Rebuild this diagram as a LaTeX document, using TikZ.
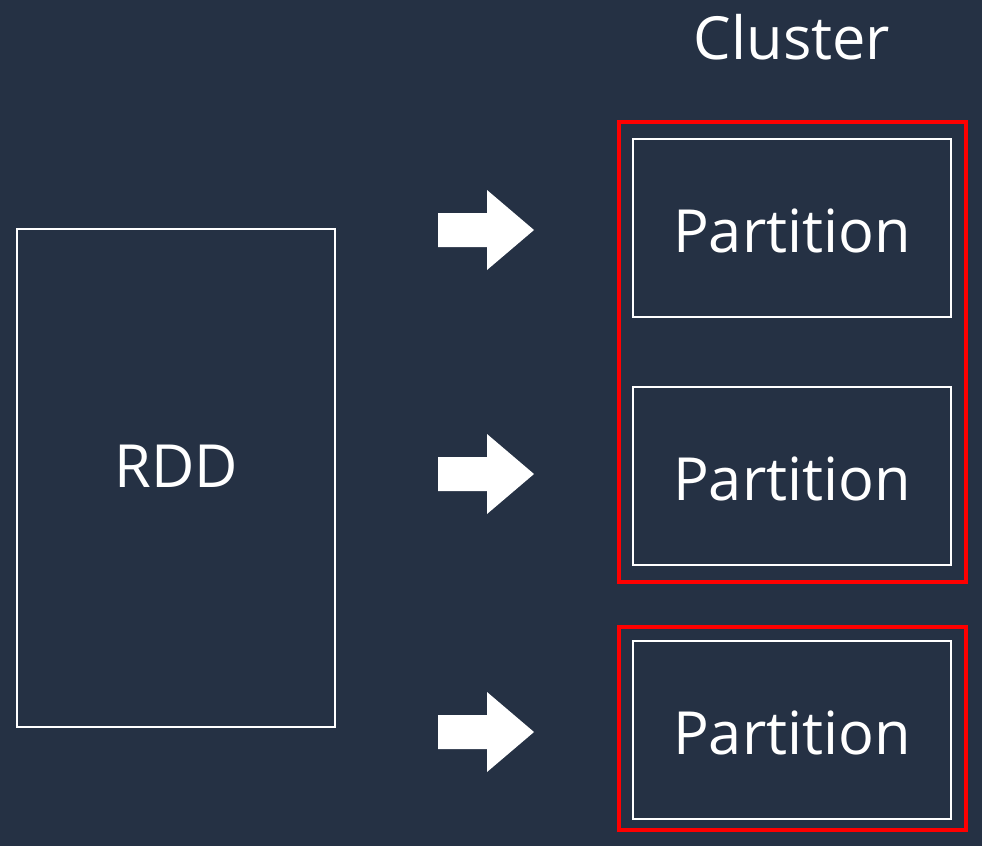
\documentclass[tikz,border=0pt]{standalone}
\usepackage{fontspec}
\setmainfont{Open Sans}
\definecolor{bg}{HTML}{253144}
\definecolor{redc}{HTML}{FF0000}
\begin{document}
\begin{tikzpicture}[x=1pt,y=-1pt,
  box/.style={draw=white,line width=1.6pt,fill=none},
  lbl/.style={text=white,font=\fontsize{59.5}{68}\selectfont,inner sep=0pt},
  grp/.style={draw=redc,line width=3.5pt},
  bigarrow/.style={fill=white,draw=none}]
\fill[bg] (0,0) rectangle (982,846);
\useasboundingbox (0,0) rectangle (982,846);
% RDD
\draw[box] (17,229) rectangle (335,727);
\node[lbl] (rdd) at (176,466) {RDD};
% cluster label
\node[lbl] (cluster) at (792,37) {Cluster};
% red groups
\draw[grp] (619,122) rectangle (966,582);
\draw[grp] (619,627) rectangle (966,830);
% partitions
\foreach \n/\y in {p1/228, p2/476, p3/730}{
  \draw[box] (633,\y-89) rectangle (951,\y+89);
  \node[lbl] (\n) at (792,\y+3) {Partition};
}
% arrows
\foreach \a/\c in {a1/230, a2/474, a3/732}{
  \fill[bigarrow] (438,\c-17) -- (487,\c-17) -- (487,\c-40) -- (534,\c) -- (487,\c+40) -- (487,\c+17) -- (438,\c+17) -- cycle;
}
\end{tikzpicture}
\end{document}
